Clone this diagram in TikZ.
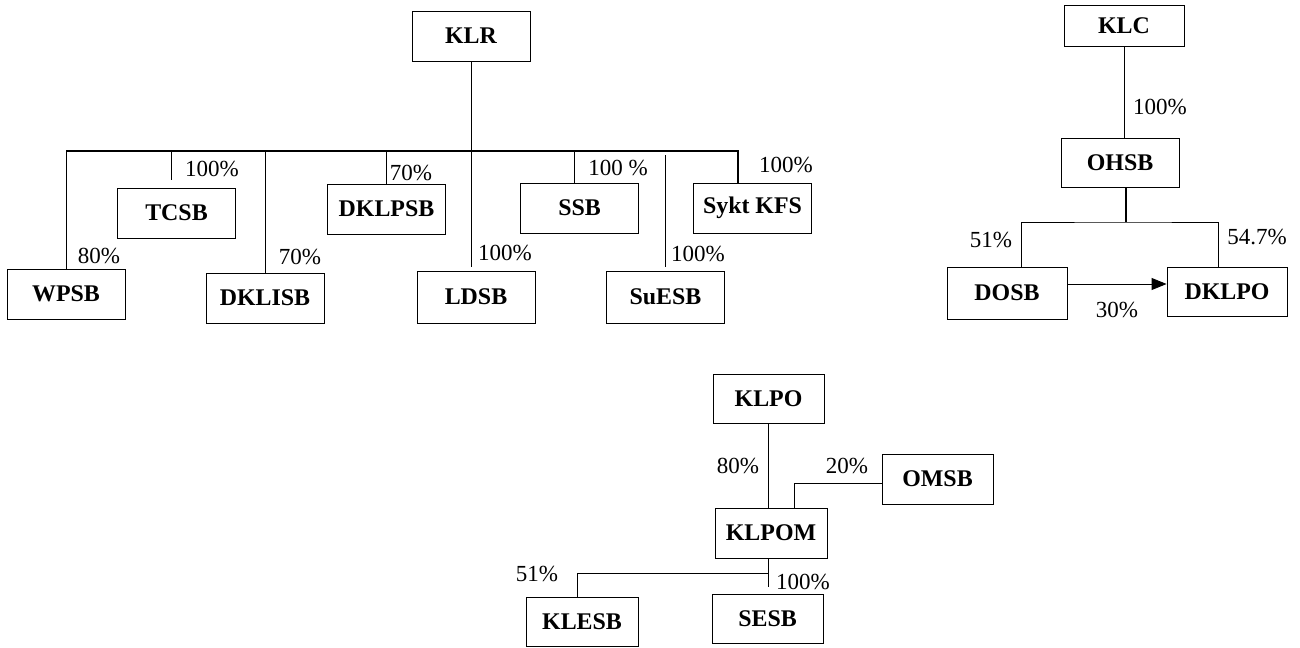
\documentclass[tikz,border=0pt]{standalone}
\usepackage{fontspec}
\setmainfont{Liberation Serif}
\usetikzlibrary{arrows.meta}

\begin{document}
\begin{tikzpicture}[x=0.02cm,y=-0.02cm,
  box/.style={draw,line width=0.5pt,minimum width=2.36cm,minimum height=1cm,inner sep=0pt,font=\fontsize{13.6}{16}\selectfont\bfseries},
  pct/.style={inner sep=0pt,font=\fontsize{13.1}{15}\selectfont},
  link/.style={line width=0.5pt}]
\useasboundingbox (0,0) rectangle (1300,648);

\node (KLR) [box] at (471,36) {KLR};
\node (WPSB) [box] at (66,294) {WPSB};
\node (TCSB) [box] at (176.5,213) {TCSB};
\node (DKLISB) [box] at (265,298) {DKLISB};
\node (DKLPSB) [box] at (386.5,209) {DKLPSB};
\node (LDSB) [box,minimum height=1.04cm] at (476,297) {LDSB};
\node (SSB) [box] at (579.5,208) {SSB};
\node (SuESB) [box,minimum height=1.04cm] at (665.5,297) {SuESB};
\node (SyktKFS) [box] at (752.5,208) {Sykt KFS};
\node (L1) [pct] at (99,256) {80\%};
\node (L2) [pct] at (212,169) {100\%};
\node (L3) [pct] at (300,257) {70\%};
\node (L4) [pct] at (411,173) {70\%};
\node (L5) [pct] at (505,252.5) {100\%};
\node (L6) [pct] at (618,168) {100 \%};
\node (L7) [pct] at (698,254) {100\%};
\node (L8) [pct] at (786,165.5) {100\%};
\coordinate (bus) at (471,151);
\draw[link] (WPSB.north) |- (bus);
\draw[link,line width=0.9pt] (WPSB.north |- bus) -- (bus) -| ([xshift=-0.29cm]SyktKFS.north);
\draw[link,shorten <=0.16cm] ([xshift=-0.11cm]TCSB.north) |- (bus);
\draw[link] (DKLISB.north) |- (bus);
\draw[link] (DKLPSB.north) |- (bus);
\draw[link,shorten >=0.08cm] (KLR) -- (KLR |- LDSB.north);
\draw[link] ([xshift=-0.11cm]SSB.north) |- (bus);
\draw[link,shorten <=0.08cm,shorten >=0.08cm] (SuESB.north) -- (SuESB.north |- bus);

\node (KLC) [box,minimum width=2.4cm,minimum height=0.82cm] at (1124,25.5) {KLC};
\node (OHSB) [box,minimum height=0.98cm] at (1120,162.5) {OHSB};
\node (DOSB) [box,minimum width=2.4cm,minimum height=1.04cm] at (1007,293) {DOSB};
\node (DKLPO) [box,minimum width=2.4cm,minimum height=0.98cm] at (1227,291.5) {DKLPO};
\node (R1) [pct] at (1160,107.5) {100\%};
\node (R2) [pct] at (991,240) {51\%};
\node (R3) [pct] at (1257,237.5) {54.7\%};
\node (R4) [pct] at (1117,310) {30\%};
\coordinate (split) at (1126,222);
\draw[link] (KLC) -- (KLC |- OHSB.north);
\draw[link,line width=0.8pt] (OHSB.south -| split) -- (split);
\draw[link] ([xshift=0.28cm]DOSB.north) |- (split) -| ([xshift=-0.18cm]DKLPO.north);
\draw[link,-{Triangle[length=0.3cm,width=0.24cm]}] ([yshift=0.18cm]DOSB.east) -- ([yshift=0.18cm]DOSB.east -| DKLPO.west);

\node (KLPO) [box,minimum width=2.22cm,minimum height=0.98cm] at (768.5,398.5) {KLPO};
\node (OMSB) [box,minimum width=2.22cm] at (937.5,479) {OMSB};
\node (KLPOM) [box,minimum width=2.24cm] at (771,533) {KLPOM};
\node (KLESB) [box,minimum width=2.24cm,minimum height=0.98cm] at (582,621.5) {KLESB};
\node (SESB) [box,minimum width=2.22cm,minimum height=0.98cm] at (767.5,618.5) {SESB};
\node (B1) [pct] at (738,466) {80\%};
\node (B2) [pct] at (847,466) {20\%};
\node (B3) [pct] at (537,574) {51\%};
\node (B4) [pct] at (803,582) {100\%};
\coordinate (fork) at (768,573);
\draw[link] (KLPO) -- (KLPO |- KLPOM.north);
\draw[link] ([yshift=-0.08cm]OMSB.west) -| ([xshift=0.46cm]KLPOM.north);
\draw[link,shorten >=0.14cm] (KLPOM.south -| fork) -- (SESB.north -| fork);
\draw[link] (fork) -| ([xshift=-0.1cm]KLESB.north);
\end{tikzpicture}
\end{document}
